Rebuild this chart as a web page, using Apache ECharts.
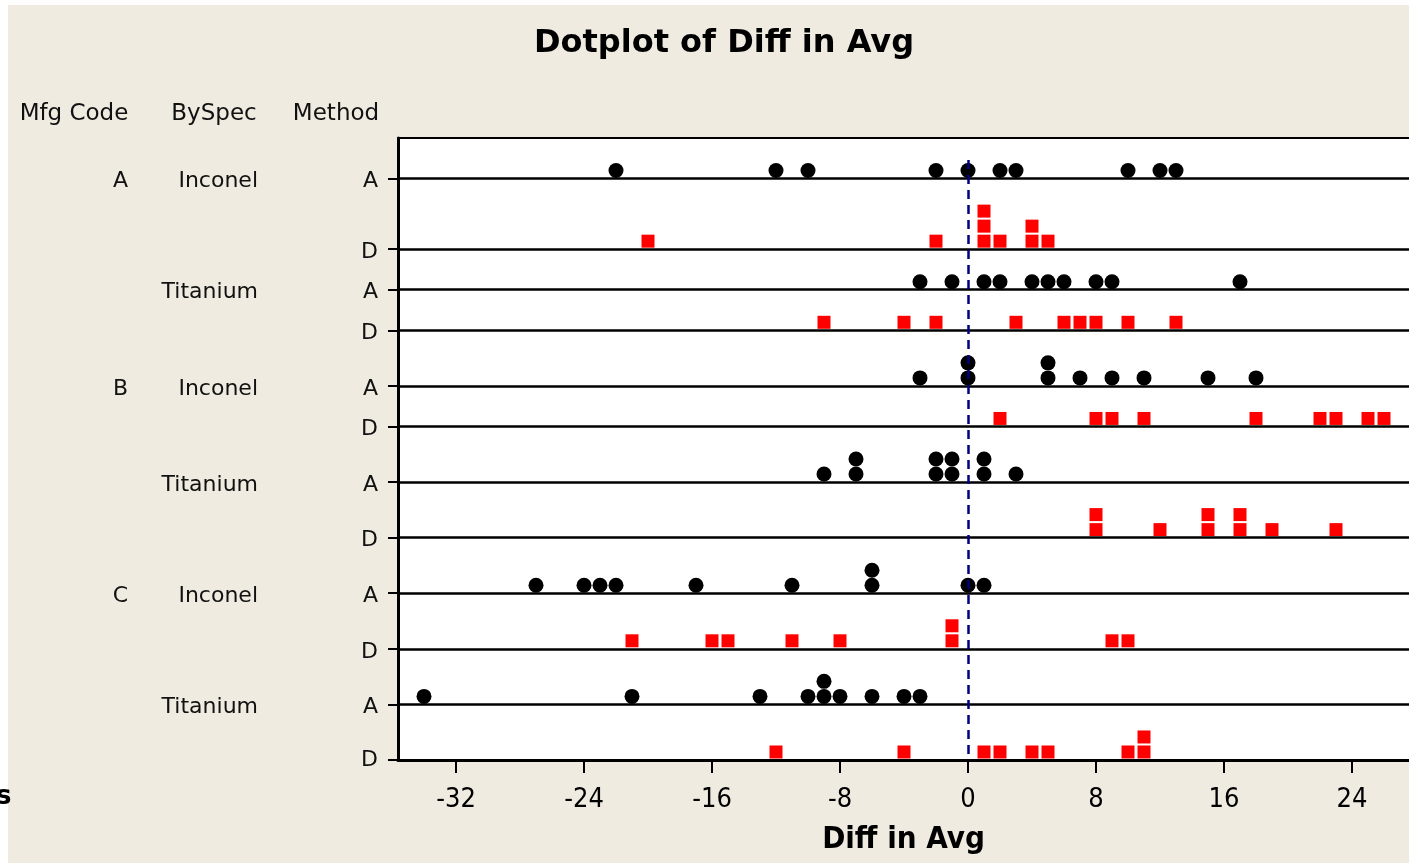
<!DOCTYPE html>
<html>
<head>
<meta charset="utf-8">
<script src="https://cdn.jsdelivr.net/npm/echarts@6/dist/echarts.min.js"></script>
<style>
html,body{margin:0;padding:0;background:#fff;}
#chart{width:1409px;height:863px;}
</style>
</head>
<body>
<div id="chart"></div>
<script>
// ---- data ----
const mfgCodes = ['A', 'B', 'C'];
const specs = ['Inconel', 'Titanium'];
const methods = ['A', 'D'];
const xTickValues = [-32, -24, -16, -8, 0, 8, 16, 24];

const A_Inconel_A  = [-22, -12, -10, -2, 0, 2, 3, 10, 12, 13];
const A_Inconel_D  = [-20, -2, 1, 1, 1, 2, 4, 4, 5];
const A_Titanium_A = [-3, -1, 1, 2, 4, 5, 6, 8, 9, 17];
const A_Titanium_D = [-9, -4, -2, 3, 6, 7, 8, 10, 13];
const B_Inconel_A  = [-3, 0, 0, 5, 5, 7, 9, 11, 15, 18];
const B_Inconel_D  = [2, 8, 9, 11, 18, 22, 23, 25, 26];
const B_Titanium_A = [-9, -7, -7, -2, -2, -1, -1, 1, 1, 3];
const B_Titanium_D = [8, 8, 12, 15, 15, 17, 17, 19, 23];
const C_Inconel_A  = [-27, -24, -23, -22, -17, -11, -6, -6, 0, 1];
const C_Inconel_D  = [-21, -16, -15, -11, -8, -1, -1, 9, 10];
const C_Titanium_A = [-34, -21, -13, -10, -9, -9, -8, -6, -4, -3];
const C_Titanium_D = [-12, -4, 1, 2, 4, 5, 10, 11, 11];

const rowValues = [
  A_Inconel_A, A_Inconel_D, A_Titanium_A, A_Titanium_D,
  B_Inconel_A, B_Inconel_D, B_Titanium_A, B_Titanium_D,
  C_Inconel_A, C_Inconel_D, C_Titanium_A, C_Titanium_D
];

// ---- build rows ----
const rows = [];
let idx = 0;
mfgCodes.forEach(m => specs.forEach(s => methods.forEach(me => {
  rows.push({ mfg: m, spec: s, method: me, values: rowValues[idx++] });
})));

const ROW_BASE = 25.5, STACK = 15, LABEL_DROP = 3;
let acc = 0;
rows.forEach(r => {
  const c = {}; let mx = 0;
  r.values.forEach(v => { c[v] = (c[v] || 0) + 1; mx = Math.max(mx, c[v]); });
  acc += ROW_BASE + STACK * mx;
  r.baseline = acc;
});
const yMax = acc;
const baselines = rows.map(r => r.baseline);
const labelPos = r => Math.min(r.baseline + LABEL_DROP, yMax);

function pointsFor(method) {
  const pts = [];
  rows.filter(r => r.method === method).forEach(r => {
    const c = {};
    r.values.forEach(v => {
      const k = c[v] || 0; c[v] = k + 1;
      pts.push([v, r.baseline - 8 - STACK * k]);
    });
  });
  return pts;
}
function findRow(v) { return rows.find(r => Math.abs(labelPos(r) - v) < 0.01); }

const methodVals = rows.map(labelPos);
const specVals = rows.filter(r => r.method === 'A').map(labelPos);
const mfgVals = rows.filter((r, i) => i % 4 === 0).map(labelPos);

const labelFont = 'DejaVu Sans';
const X_MIN = -35.625, X_MAX = 27.5625;
const common = { type: 'value', inverse: true, min: 0, max: yMax, splitLine: { show: false } };

const chart = echarts.init(document.getElementById('chart'), null, { renderer: 'canvas' });
chart.setOption({
  animation: false,
  backgroundColor: '#ffffff',
  graphic: { elements: [{ type: 'rect', z: -100, shape: { x: 8, y: 5, width: 1401, height: 858 }, style: { fill: '#EFEBE1' } }] },
  title: [
    { text: 'Dotplot of Diff in Avg', left: 719, top: 23, textAlign: 'center',
      textStyle: { fontFamily: labelFont, fontWeight: 'bold', fontSize: 32, color: '#000' } },
    { text: 'Mfg Code', left: 69, top: 98, textAlign: 'center', textStyle: { fontFamily: labelFont, fontWeight: 'normal', fontSize: 23, color: '#111' } },
    { text: 'BySpec', left: 209, top: 98, textAlign: 'center', textStyle: { fontFamily: labelFont, fontWeight: 'normal', fontSize: 23, color: '#111' } },
    { text: 'Method', left: 331, top: 98, textAlign: 'center', textStyle: { fontFamily: labelFont, fontWeight: 'normal', fontSize: 23, color: '#111' } },
    { text: 's', left: -9, top: 779, textStyle: { fontFamily: labelFont, fontWeight: 'bold', fontSize: 26, color: '#000' } }
  ],
  grid: { left: 398, top: 138, right: 0, bottom: 103, show: true, backgroundColor: '#ffffff', borderWidth: 0 },
  xAxis: [
    {
      type: 'value', min: X_MIN, max: X_MAX, position: 'bottom',
      axisLine: { show: true, onZero: false, lineStyle: { color: '#000', width: 3 } },
      axisTick: { show: true, customValues: xTickValues, length: 13, lineStyle: { color: '#000', width: 2 } },
      axisLabel: { customValues: xTickValues, margin: 26, fontFamily: 'Liberation Sans Narrow, DejaVu Sans Condensed', fontSize: 27, color: '#000' },
      splitLine: { show: false },
      name: 'Diff in Avg', nameLocation: 'middle', nameGap: 64,
      nameTextStyle: { fontFamily: 'DejaVu Sans Condensed, DejaVu Sans', fontWeight: 'bold', fontSize: 31, color: '#000' }
    },
    {
      type: 'value', min: X_MIN, max: X_MAX, position: 'top',
      axisLine: { show: true, onZero: false, lineStyle: { color: '#000', width: 2 } },
      axisTick: { show: false }, axisLabel: { show: false }, splitLine: { show: false }
    }
  ],
  yAxis: [
    Object.assign({}, common, {
      position: 'left',
      axisLine: { show: true, onZero: false, lineStyle: { color: '#000', width: 3 } },
      axisTick: { show: true, customValues: baselines, length: 10, lineStyle: { color: '#000', width: 2 } },
      axisLabel: { customValues: methodVals, margin: 20, fontFamily: labelFont, fontSize: 22, color: '#111',
        formatter: v => { const r = findRow(v); return r ? r.method : ''; } }
    }),
    Object.assign({}, common, {
      position: 'left', offset: 132,
      axisLine: { show: false, onZero: false }, axisTick: { show: false },
      axisLabel: { customValues: specVals, margin: 8, fontFamily: labelFont, fontSize: 22, color: '#111',
        formatter: v => { const r = findRow(v); return r ? r.spec : ''; } }
    }),
    Object.assign({}, common, {
      position: 'left', offset: 262,
      axisLine: { show: false, onZero: false }, axisTick: { show: false },
      axisLabel: { customValues: mfgVals, margin: 8, fontFamily: labelFont, fontSize: 22, color: '#111',
        formatter: v => { const r = findRow(v); return r ? r.mfg : ''; } }
    })
  ],
  series: [
    { name: 'rows', type: 'scatter', data: [], z: 1, silent: true,
      markLine: { silent: true, symbol: ['none', 'none'], label: { show: false }, animation: false,
        lineStyle: { color: '#000', width: 2.5, type: 'solid' },
        data: baselines.map(b => ({ yAxis: b })) } },
    { name: 'A', type: 'scatter', data: pointsFor('A'), symbol: 'circle', symbolSize: 15,
      itemStyle: { color: '#000', opacity: 1 }, z: 3 },
    { name: 'D', type: 'scatter', data: pointsFor('D'), symbol: 'rect', symbolSize: 13,
      itemStyle: { color: '#FF0000', opacity: 1 }, z: 3 },
    { name: 'zero', type: 'scatter', data: [], z: 5, silent: true,
      markLine: { silent: true, symbol: ['none', 'none'], label: { show: false }, animation: false,
        lineStyle: { color: '#000080', width: 2.5, type: [9, 6] },
        data: [[{ coord: [0, 22] }, { coord: [0, yMax] }]] } }
  ]
});
</script>
</body>
</html>
